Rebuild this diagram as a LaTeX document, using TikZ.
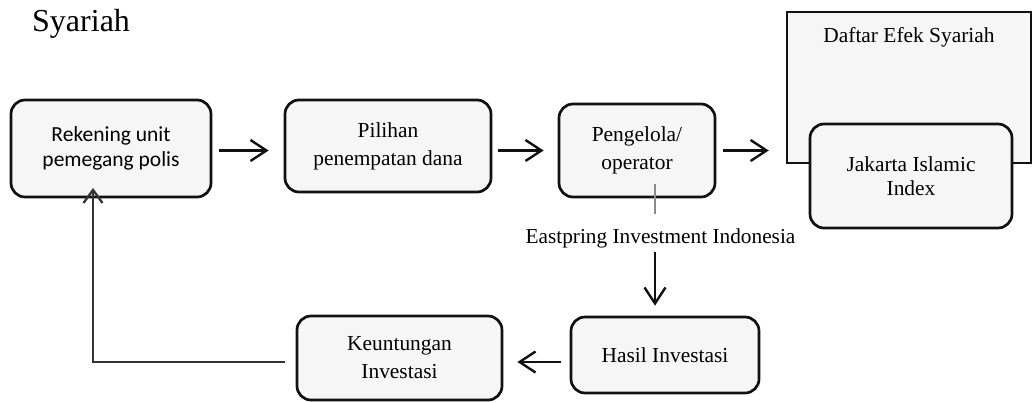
\documentclass[tikz,border=0pt]{standalone}
\usepackage{fontspec}
\setmainfont{Liberation Serif}
\newfontfamily\calibrifont{Carlito}
\usepackage{tikz}
\usetikzlibrary{arrows.meta,positioning,calc}
\definecolor{flBox}{HTML}{F6F6F6}
\definecolor{flLine}{HTML}{111111}
\definecolor{flThin}{HTML}{8A8A8A}
\tikzset{
  flnode/.style={
    draw=flLine, line width=2.7pt, rounded corners=14pt, fill=flBox,
    align=center, inner sep=0pt,
    font=\fontsize{21.4}{28}\selectfont
  },
  flsans/.style={flnode, font=\calibrifont\fontsize{21.5}{25}\selectfont},
  flframe/.style={draw=flLine, line width=2.5pt, fill=flBox, inner sep=0pt},
  flow/.style={-{Straight Barb[length=16pt,width=21pt,line width=2.4pt]}, line width=2.4pt, flLine},
  backline/.style={-{Straight Barb[length=13pt,width=19pt,line width=2.3pt]}, line width=2.3pt, black!80},
  thinline/.style={line width=1.1pt, flThin},
  tag/.style={font=\fontsize{21.3}{24}\selectfont, inner sep=4pt}
}
\begin{document}
\begin{tikzpicture}[x=1pt, y=-1pt]
  \useasboundingbox (0,0) rectangle (1035,402);
  \node[anchor=base west, inner sep=0pt, font=\fontsize{32}{36}\selectfont] (title) at (32,31) {Syariah};
  % top row
  \node[flsans, minimum width=200pt, minimum height=97pt] (rek) at (111,148.5) {Rekening unit\\pemegang polis};
  \node[flnode, minimum width=206pt, minimum height=92pt] (pil) at (388,146) {Pilihan\\penempatan dana};
  \node[flnode, minimum width=156pt, minimum height=93pt] (peng) at (637,150.5) {Pengelola/\\operator};
  \node[flframe, minimum width=244pt, minimum height=151pt] (def) at (909,87.5) {};
  \node[anchor=base, inner sep=0pt, font=\fontsize{21.4}{24}\selectfont] (deflbl) at (909,42) {Daftar Efek Syariah};
  \node[flnode, font=\fontsize{21.4}{24}\selectfont, minimum width=202pt, minimum height=104pt] (jii) at (911,176) {Jakarta Islamic\\Index};
  % bottom row
  \node[flnode, minimum width=188pt, minimum height=76pt] (hasil) at (665,355) {Hasil Investasi};
  \node[flnode, minimum width=205pt, minimum height=84pt] (keu) at (399.5,358) {Keuntungan\\Investasi};
  \node[tag, anchor=base] (mgr) at (660.5,243) {Eastpring Investment Indonesia};
  \coordinate (tap) at (655,184);
  \coordinate (fbtop) at (93,188);
  % connectors
  \draw[flow, shorten <=7pt, shorten >=15pt] (rek.east |- peng) -- (pil.west |- peng);
  \draw[flow, shorten <=6pt, shorten >=14pt] (pil.east |- peng) -- (peng.west);
  \draw[flow, shorten <=7pt, shorten >=17pt] (peng.east) -- (def.west |- peng);
  \draw[thinline, shorten >=10pt] (tap) -- (tap |- mgr.north);
  \draw[flow, shorten >=10pt] (mgr.south -| tap) -- (hasil.north -| tap);
  \draw[flow, shorten <=9pt, shorten >=14pt] ([yshift=-7pt]hasil.west) -- ([yshift=-7pt]hasil.west -| keu.east);
  \draw[backline] ([xshift=-11pt,yshift=-4pt]keu.west) -| (fbtop);
\end{tikzpicture}
\end{document}
